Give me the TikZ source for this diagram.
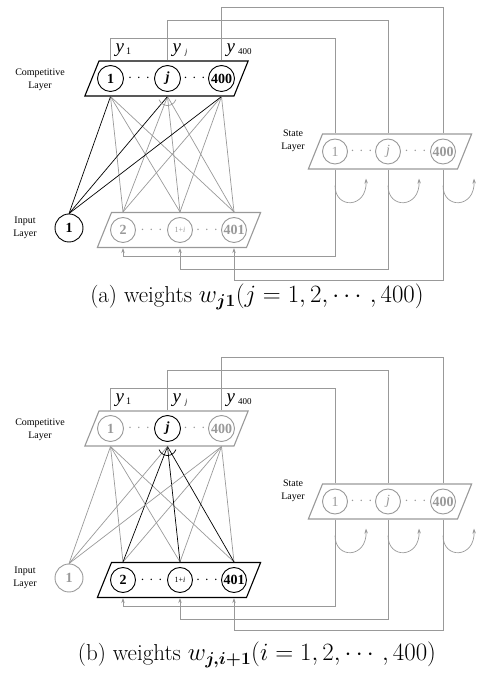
\documentclass[tikz,border=0pt]{standalone}
\usepackage{fontspec}
\usepackage{amsmath}
\usepackage{tikz}
\usetikzlibrary{shapes.geometric, arrows.meta, calc}
\newfontfamily\diagfont{Liberation Serif}
\definecolor{netgray}{gray}{0.6}
\tikzstyle{layer} = [trapezium, trapezium left angle=68, trapezium right angle=112, inner xsep=67.5pt, inner ysep=17.5pt, line width=1.1pt]
\tikzstyle{neuron} = [circle, draw, minimum size=26pt, inner sep=0pt, line width=0.9pt, font=\diagfont\fontsize{14}{14}\selectfont\bfseries]
\tikzstyle{ellip} = [inner sep=0pt, font=\fontsize{14}{14}\selectfont]
\tikzstyle{lbl} = [align=center, font=\diagfont\fontsize{10}{13}\selectfont]
\tikzstyle{ylbl} = [anchor=base west, inner sep=0pt, font=\diagfont]
\tikzstyle{wire} = [netgray, line width=0.7pt]
\tikzstyle{link} = [line width=0.7pt]
\tikzstyle{caption} = [font=\fontsize{23}{27}\selectfont]

\begin{document}
\begin{tikzpicture}[x=1pt, y=1pt, >={Stealth[length=5pt,width=3.5pt]}]
	\useasboundingbox (0,0) rectangle (484,683);
	\foreach \p/\dy/\cc/\cj/\ci/\cn/\cw/\cf in {a/0/black/black/black/netgray/black/netgray, b/-350/netgray/black/netgray/black/netgray/black}{
	\begin{scope}[yshift=\dy pt]
		%Layers
		\node[layer, draw=\cc] (\p-cl) at (166.5,604.5) {};
		\node[layer, draw=\cn] (\p-il) at (179,453) {};
		\node[layer, draw=netgray] (\p-sl) at (390,531.5) {};
		\node[lbl] (\p-clbl) at (40,603) {Competitive\\Layer};
		\node[lbl] (\p-ilbl) at (25,455) {Input\\Layer};
		\node[lbl] (\p-slbl) at (293,542) {State\\Layer};
		
		%Competitive neurons
		\node[neuron, \cc] (\p-c1) at ([xshift=-56pt]\p-cl.center) {1};
		\node[neuron, \cj] (\p-cj) at ([xshift=1pt]\p-cl.center) {\textit{j}};
		\node[neuron, \cc] (\p-c400) at ([xshift=55pt]\p-cl.center) {400};
		\node[ellip, \cc] (\p-cd1) at ($(\p-c1)!0.5!(\p-cj)$) {${\cdot}\hspace{5pt}{\cdot}\hspace{5pt}{\cdot}$};
		\node[ellip, \cc] (\p-cd2) at ($(\p-cj)!0.5!(\p-c400)$) {${\cdot}\hspace{5pt}{\cdot}\hspace{5pt}{\cdot}$};
		
		%Input neurons
		\node[neuron, \ci, minimum size=28pt] (\p-i1) at (69,455) {1};
		\node[neuron, \cn, minimum size=25pt] (\p-i2) at ([xshift=-56pt]\p-il.center) {2};
		\node[neuron, \cn, minimum size=25pt] (\p-ii) at ([xshift=1pt]\p-il.center) {\mdseries\fontsize{8}{8}\selectfont 1+\textit{i}};
		\node[neuron, \cn, minimum size=25pt] (\p-i401) at ([xshift=55pt]\p-il.center) {401};
		\node[ellip, \cn] (\p-id1) at ($(\p-i2)!0.5!(\p-ii)$) {${\cdot}\hspace{5pt}{\cdot}\hspace{5pt}{\cdot}$};
		\node[ellip, \cn] (\p-id2) at ($(\p-ii)!0.5!(\p-i401)$) {${\cdot}\hspace{5pt}{\cdot}\hspace{5pt}{\cdot}$};
		
		%State neurons
		\node[neuron, netgray, minimum size=25pt, font=\diagfont\fontsize{14}{14}\selectfont] (\p-s1) at ([xshift=-55pt]\p-sl.center) {1};
		\node[neuron, netgray, minimum size=25pt, font=\diagfont\fontsize{14}{14}\selectfont] (\p-sj) at ([xshift=-2pt]\p-sl.center) {\textit{j}};
		\node[neuron, netgray, minimum size=25pt] (\p-s400) at ([xshift=53pt]\p-sl.center) {400};
		\node[ellip, netgray] (\p-sd1) at ($(\p-s1)!0.5!(\p-sj)$) {${\cdot}\hspace{5pt}{\cdot}\hspace{5pt}{\cdot}$};
		\node[ellip, netgray] (\p-sd2) at ($(\p-sj)!0.5!(\p-s400)$) {${\cdot}\hspace{5pt}{\cdot}\hspace{5pt}{\cdot}$};
		
		%Outputs
		\node[ylbl, xshift=5pt, yshift=8pt] (\p-y1) at (\p-c1 |- \p-cl.north) {{\fontsize{19}{19}\selectfont\textit{y}}\hspace{2pt}\raisebox{-2pt}{\fontsize{10}{10}\selectfont 1}};
		\node[ylbl, xshift=5pt, yshift=8pt] (\p-yj) at (\p-cj |- \p-cl.north) {{\fontsize{19}{19}\selectfont\textit{y}}\hspace{4pt}\raisebox{-2pt}{\fontsize{8}{8}\selectfont\textit{j}}};
		\node[ylbl, xshift=5pt, yshift=8pt] (\p-y400) at (\p-c400 |- \p-cl.north) {{\fontsize{19}{19}\selectfont\textit{y}}\hspace{3pt}\raisebox{-2pt}{\fontsize{9}{9}\selectfont 400}};
		
		%Weights
		\foreach \src in {c1,c400}
			\foreach \dst in {i2,ii,i401}
				\draw[link, netgray] (\p-\src |- \p-cl.south) -- (\p-\dst |- \p-il.north);
		\foreach \dst in {i2,ii,i401}
			\draw[link, \cf] (\p-cj |- \p-cl.south) -- (\p-\dst |- \p-il.north);
		\foreach \src in {c1,cj,c400}
			\draw[link, \cw] (\p-\src |- \p-cl.south) -- (\p-i1.north);
		\coordinate (\p-jf) at (\p-cj |- \p-cl.south);
		\draw[link, \cf] ([shift={(200:9pt)}]\p-jf) arc (200:340:9pt);
		
		%Feedback
		\draw[wire] (\p-c1 |- \p-cl.north) -- ++(0,22) -| (\p-s1 |- \p-sl.north);
		\draw[wire] (\p-cj |- \p-cl.north) -- ++(0,40) -| (\p-sj |- \p-sl.north);
		\draw[wire] (\p-c400 |- \p-cl.north) -- ++(0,53) -| (\p-s400 |- \p-sl.north);
		\draw[wire, ->] (\p-s1 |- \p-sl.south) -- ++(0,-87) -| (\p-i2 |- \p-il.south);
		\draw[wire, ->] (\p-sj |- \p-sl.south) -- ++(0,-100) -| (\p-ii |- \p-il.south);
		\draw[wire, ->] (\p-s400 |- \p-sl.south) -- ++(0,-111) -| (\p-i401 |- \p-il.south);
		\foreach \s in {s1,sj,s400}
			\draw[wire, ->] ($(\p-\s |- \p-sl.south)+(0,-16)$) .. controls +(0,-24) and +(1,-30) .. +(31,7);
	\end{scope}
	}
	
	%Captions
	\node[caption] (capa) at (257,386) {(a) weights $w_{\boldsymbol{j1}}(j=1,2,\cdots,400)$};
	\node[caption] (capb) at (257,28) {(b) weights $w_{\boldsymbol{j,i+1}}(i=1,2,\cdots,400)$};
\end{tikzpicture}
\end{document}
